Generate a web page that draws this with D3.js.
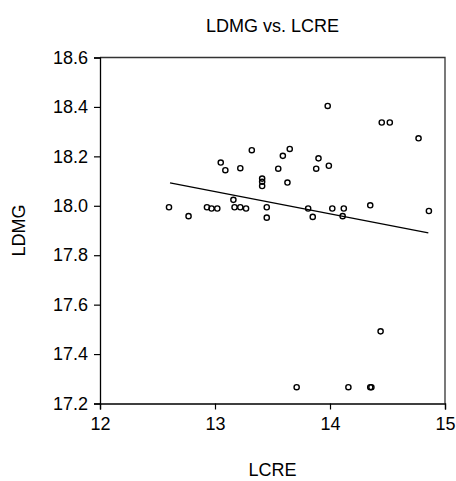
<!DOCTYPE html>
<html>
<head>
<meta charset="utf-8">
<script src="https://cdn.jsdelivr.net/npm/d3@7"></script>
<style>
  body { margin: 0; background: #fff; }
  text { font-family: "Liberation Sans", Arial, sans-serif; }
</style>
</head>
<body>
<div id="chart"></div>
<script>
var lcre = [12.60, 12.77, 12.93, 12.97, 13.02, 13.05, 13.09, 13.16, 13.17, 13.22, 13.27, 13.22, 13.32,
            13.41, 13.41, 13.41, 13.45, 13.45, 13.55, 13.59, 13.65, 13.63, 13.81, 13.85, 13.88, 13.90,
            13.98, 13.99, 14.02, 14.12, 14.11, 14.35, 14.45, 14.52, 14.77, 14.86, 14.44, 13.71, 14.16,
            14.35, 14.36];
var ldmg = [17.994, 17.958, 17.994, 17.989, 17.989, 18.175, 18.144, 18.024, 17.994, 17.994, 17.989, 18.152, 18.225,
            18.110, 18.097, 18.080, 17.994, 17.952, 18.150, 18.202, 18.230, 18.094, 17.989, 17.955, 18.150, 18.192,
            18.404, 18.162, 17.989, 17.989, 17.958, 18.002, 18.337, 18.337, 18.273, 17.979, 17.492, 17.266, 17.266,
            17.266, 17.266];
// fitted line end points
var fitX = [12.609, 14.855];
var fitY = [18.093, 17.890];
var xTicks = [12, 13, 14, 15];
var yTicks = [17.2, 17.4, 17.6, 17.8, 18.0, 18.2, 18.4, 18.6];

var width = 456, height = 481;
var mLeft = 100, mRight = 445, mTop = 57.5, mBottom = 403.5;

var svg = d3.select("#chart").append("svg")
    .attr("width", width)
    .attr("height", height);

var x = d3.scaleLinear().domain([12, 15]).range([mLeft, mRight]);
var y = d3.scaleLinear().domain([17.2, 18.6]).range([mBottom, mTop]);

// frame top and right
svg.append("path")
    .attr("d", "M" + mLeft + "," + mTop + "H" + mRight + "V" + mBottom)
    .attr("style", "fill:none;stroke:#333;stroke-width:1.3;");

var xAxis = svg.append("g")
    .attr("transform", "translate(0," + mBottom + ")")
    .call(d3.axisBottom(x).tickValues(xTicks).tickSize(6).tickPadding(8).tickFormat(d3.format("d")));
var yAxis = svg.append("g")
    .attr("transform", "translate(" + mLeft + ",0)")
    .call(d3.axisLeft(y).tickValues(yTicks).tickSize(6).tickPadding(6).tickFormat(d3.format(".1f")));

[xAxis, yAxis].forEach(function(g){
  g.select(".domain").attr("stroke", "#000").attr("stroke-width", 1.3);
  g.selectAll(".tick line").attr("stroke", "#000").attr("stroke-width", 1.2);
  g.selectAll("text").attr("fill", "#000").style("font-size", "18px")
    .style("font-family", "'Liberation Sans', Arial, sans-serif");
});

// fitted line
var line = d3.line().x(function(d){ return x(d[0]); }).y(function(d){ return y(d[1]); });
svg.append("path")
    .datum(d3.zip(fitX, fitY))
    .attr("d", line)
    .attr("style", "fill:none;stroke:#000;stroke-width:1.3;");

// points
svg.selectAll("circle.pt")
    .data(d3.zip(lcre, ldmg))
    .enter().append("circle")
    .attr("class", "pt")
    .attr("cx", function(d){ return x(d[0]); })
    .attr("cy", function(d){ return y(d[1]); })
    .attr("r", 2.6)
    .attr("style", "fill:none;stroke:#000;stroke-width:1.4;");

// title and axis labels
svg.append("text")
    .attr("x", (mLeft + mRight) / 2)
    .attr("y", 31.5)
    .attr("text-anchor", "middle")
    .style("font-size", "18px")
    .text("LDMG vs. LCRE");

svg.append("text")
    .attr("x", (mLeft + mRight) / 2)
    .attr("y", 476)
    .attr("text-anchor", "middle")
    .style("font-size", "18px")
    .text("LCRE");

svg.append("text")
    .attr("transform", "translate(25," + ((mTop + mBottom) / 2) + ") rotate(-90)")
    .attr("text-anchor", "middle")
    .style("font-size", "18px")
    .text("LDMG");
</script>
</body>
</html>
